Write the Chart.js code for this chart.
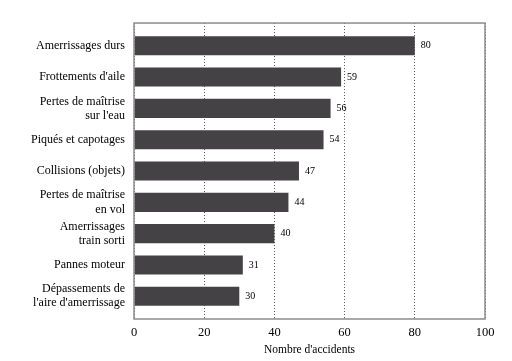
<!DOCTYPE html>
<html><head><meta charset="utf-8">
<script src="https://cdn.jsdelivr.net/npm/chart.js@4/dist/chart.umd.min.js"></script>
<style>html,body{margin:0;padding:0;background:#fff;}#wrap{width:512px;height:361px;}</style>
</head><body><div id="wrap"><canvas id="c" width="512" height="361"></canvas></div>
<script>
const categories = [
  "Amerrissages durs",
  "Frottements d'aile",
  ["Pertes de maîtrise", "sur l'eau"],
  "Piqués et capotages",
  "Collisions (objets)",
  ["Pertes de maîtrise", "en vol"],
  ["Amerrissages", "train sorti"],
  "Pannes moteur",
  ["Dépassements de", "l'aire d'amerrissage"]
];
const accidents = [80, 59, 56, 54, 47, 44, 40, 31, 30];
const xTicks = [0, 20, 40, 60, 80, 100];
const xTitle = "Nombre d'accidents";

const valueLabels = {
  id: 'valueLabels',
  afterDatasetsDraw(chart) {
    const ctx = chart.ctx;
    const meta = chart.getDatasetMeta(0);
    ctx.save();
    ctx.font = '10px "Liberation Serif"';
    ctx.fillStyle = '#000';
    ctx.textBaseline = 'middle';
    ctx.textAlign = 'left';
    meta.data.forEach((bar, i) => {
      ctx.fillText(String(accidents[i]), bar.x + 6, bar.y);
    });
    ctx.restore();
  }
};
const frame = {
  id: 'frame',
  afterDraw(chart) {
    const a = chart.chartArea;
    const ctx = chart.ctx;
    ctx.save();
    ctx.strokeStyle = '#8c8c8c';
    ctx.lineWidth = 1.5;
    ctx.strokeRect(a.left, a.top, a.right - a.left, a.bottom - a.top);
    ctx.restore();
  }
};

new Chart(document.getElementById('c'), {
  type: 'bar',
  data: {
    labels: categories,
    datasets: [{
      data: accidents,
      backgroundColor: '#454245',
      borderWidth: 0,
      barPercentage: 0.61,
      categoryPercentage: 1
    }]
  },
  options: {
    indexAxis: 'y',
    responsive: false,
    animation: false,
    layout: { padding: { left: 0, right: 27, top: 8, bottom: 4 } },
    plugins: { legend: { display: false }, tooltip: { enabled: false } },
    scales: {
      x: {
        min: 0, max: 100,
        afterBuildTicks(scale) { scale.ticks = xTicks.map(v => ({ value: v })); },
        ticks: { color: '#000', font: { family: 'Liberation Serif', size: 12.5 }, padding: 6 },
        grid: { color: '#555', lineWidth: 1, drawTicks: false, tickLength: 0 },
        border: { display: false, dash: [1, 2] },
        title: { display: true, text: xTitle, color: '#000', font: { family: 'Liberation Serif', size: 11.5 }, padding: { top: 3, bottom: 0 } },
        afterFit(scale) { scale.height = 38; }
      },
      y: {
        afterBuildTicks(scale) {
          const extra = 0.225;
          scale._startValue = -0.5 - extra;
          scale._valueRange = categories.length + 2 * extra;
        },
        ticks: { color: '#000', font: { family: 'Liberation Serif', size: 12, lineHeight: 1.17 }, padding: 9, crossAlign: 'near', autoSkip: false },
        grid: { display: false, drawTicks: false, tickLength: 0 },
        border: { display: false },
        afterFit(scale) { scale.width = 134; }
      }
    }
  },
  plugins: [valueLabels, frame]
});
</script>
</body></html>
